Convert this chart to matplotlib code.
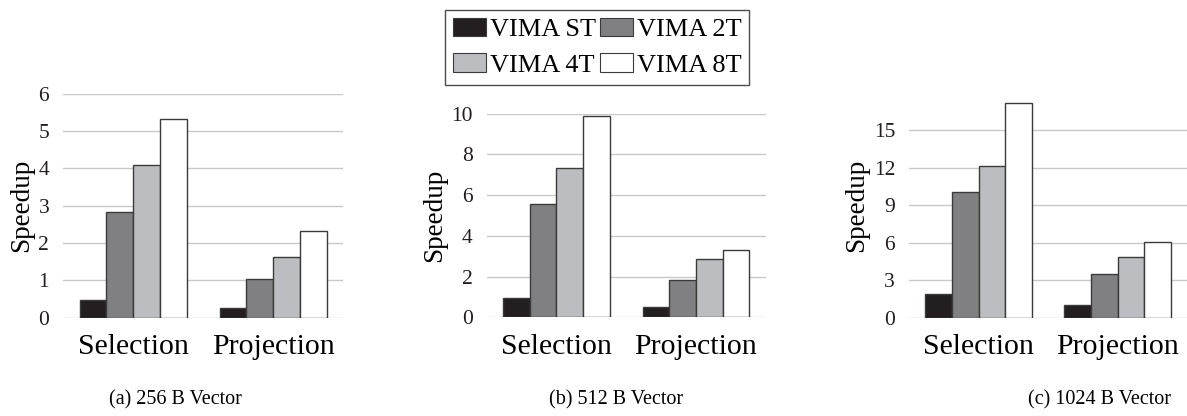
import matplotlib
matplotlib.use("Agg")
import numpy as np
import matplotlib.pyplot as plt
from matplotlib.patches import Patch

plt.rcParams["font.family"] = ["Liberation Serif", "DejaVu Serif"]

############################################################
# Data
############################################################

categories = ["Selection", "Projection"]
series_names = ["VIMA ST", "VIMA 2T", "VIMA 4T", "VIMA 8T"]
series_colors = ["#231f20", "#808083", "#bcbdc0", "#ffffff"]

speedup_256 = {
    "VIMA ST": [0.47, 0.25],
    "VIMA 2T": [2.83, 1.04],
    "VIMA 4T": [4.08, 1.62],
    "VIMA 8T": [5.32, 2.32],
}
speedup_512 = {
    "VIMA ST": [0.93, 0.50],
    "VIMA 2T": [5.56, 1.84],
    "VIMA 4T": [7.32, 2.88],
    "VIMA 8T": [9.90, 3.32],
}
speedup_1024 = {
    "VIMA ST": [1.87, 0.99],
    "VIMA 2T": [10.09, 3.47],
    "VIMA 4T": [12.14, 4.83],
    "VIMA 8T": [17.16, 6.04],
}

captions = ["(a) 256 B Vector", "(b) 512 B Vector", "(c) 1024 B Vector"]
yticks_list = [np.arange(0, 7, 1), np.arange(0, 11, 2), np.arange(0, 16, 3)]
ylims = [(0, 6), (0, 10), (0, 18)]

############################################################
# Figure
############################################################

fig = plt.figure(figsize=(11.87, 4.16), dpi=100)

axes_rects = [
    [0.0531, 0.2363, 0.2359, 0.5385],
    [0.4100, 0.2373, 0.2350, 0.4894],
    [0.7658, 0.2363, 0.2342, 0.5404],
]
caption_x = [175 / 1187, 616 / 1187, 1100 / 1187]

panels = [speedup_256, speedup_512, speedup_1024]

bar_w = 0.191
x = np.arange(len(categories))

for i, data in enumerate(panels):
    ax = fig.add_axes(axes_rects[i])

    for k, name in enumerate(series_names):
        offs = (k - 1.5) * bar_w
        ax.bar(
            x + offs,
            data[name],
            width=bar_w,
            color=series_colors[k],
            edgecolor="#3a3a3a",
            linewidth=1.0,
            zorder=3,
        )

    ax.set_xlim(-0.5, 1.5)
    ax.set_ylim(*ylims[i])
    ax.set_yticks(yticks_list[i])
    ax.set_xticks(x)
    ax.set_xticklabels(categories, fontsize=21.5)

    ax.yaxis.grid(True, color="#c8c8c8", linewidth=1.0, zorder=0)
    ax.set_axisbelow(True)

    for side in ["top", "right", "left", "bottom"]:
        ax.spines[side].set_visible(False)

    ax.tick_params(axis="x", length=0, pad=12)
    ax.tick_params(axis="y", length=0, pad=10, labelsize=15.5,
                   labelcolor="#231f20")

    ax.set_ylabel("Speedup", fontsize=19.5, labelpad=3)

    fig.text(caption_x[i], 16 / 416, captions[i],
             ha="center", va="center", fontsize=14.5)

############################################################
# Legend
############################################################

handles = [
    Patch(facecolor=series_colors[k], edgecolor="#3a3a3a", linewidth=0.8)
    for k in range(len(series_names))
]

# order so rows read ST 2T / 4T 8T with ncol=2
order = [0, 2, 1, 3]

leg = fig.legend(
    [handles[j] for j in order],
    [series_names[j] for j in order],
    loc="upper center",
    bbox_to_anchor=(597 / 1187, 1 - 10 / 416),
    ncol=2,
    fontsize=19,
    frameon=True,
    fancybox=False,
    handlelength=1.25,
    handleheight=0.7,
    handletextpad=0.15,
    columnspacing=0.15,
    borderpad=0.3,
    labelspacing=0.45,
    borderaxespad=0,
)
leg.get_frame().set_edgecolor("#231f20")
leg.get_frame().set_linewidth(1.0)

fig.savefig("out.png", dpi=100)
